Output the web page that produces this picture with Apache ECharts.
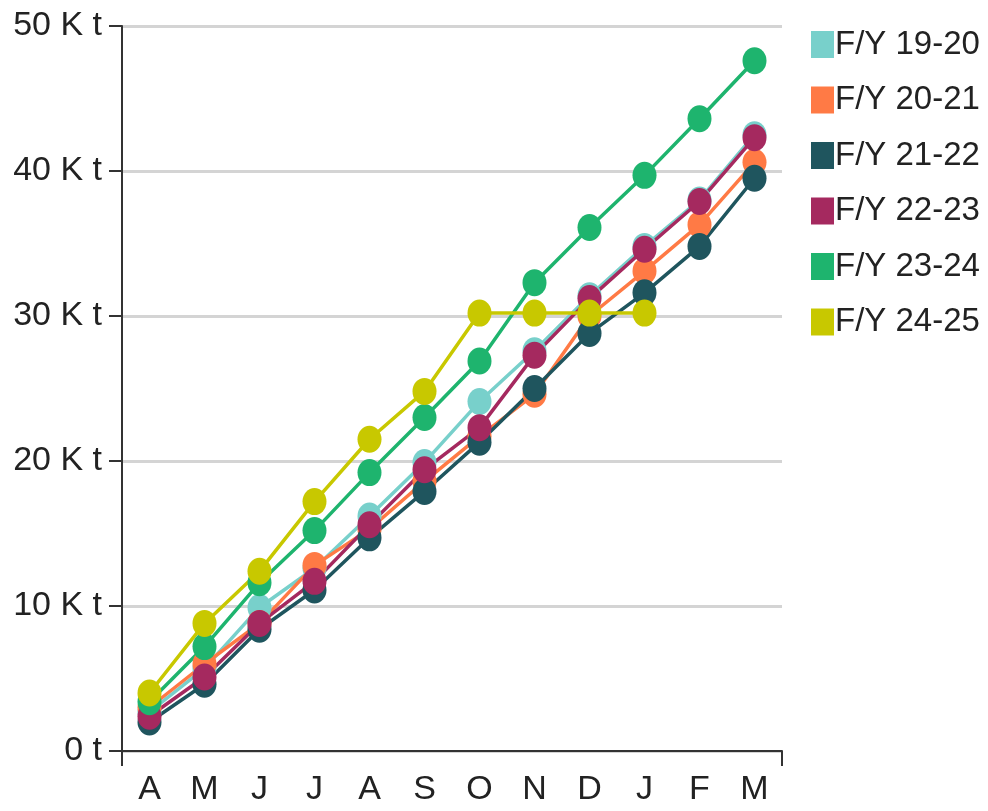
<!DOCTYPE html>
<html>
<head>
<meta charset="utf-8">
<script src="https://cdn.jsdelivr.net/npm/echarts@6/dist/echarts.min.js"></script>
<style>html,body{margin:0;padding:0;background:#fff}#c{width:988px;height:811px}</style>
</head>
<body>
<div id="c"></div>
<script>
var months = ['A','M','J','J','A','S','O','N','D','J','F','M'];
var seriesNames = ['F/Y 19-20','F/Y 20-21','F/Y 21-22','F/Y 22-23','F/Y 23-24','F/Y 24-25'];
var fy1920 = [2700,5700,9900,12600,16200,19900,24100,27600,31400,34800,38000,42500];
var fy2021 = [3000,6000,8800,12800,15300,18600,21700,24600,30000,33100,36300,40600];
var fy2122 = [2000,4600,8400,11100,14700,17900,21300,25000,28800,31600,34800,39500];
var fy2223 = [2400,5100,8800,11700,15600,19400,22300,27300,31200,34600,37900,42300];
var fy2324 = [3400,7200,11600,15200,19200,23000,26900,32300,36100,39700,43600,47600];
var fy2425 = [4000,8800,12400,17200,21500,24800,30200,30200,30200,30200,null,null];
var colors = ['#78d0cb','#ff7a45','#1f555e','#a5295f','#1eb46e','#c8c800'];
var allData = [fy1920,fy2021,fy2122,fy2223,fy2324,fy2425];

var FONT = "'Liberation Sans', Arial, sans-serif";
var chart = echarts.init(document.getElementById('c'));
chart.setOption({
  animation: false,
  color: colors,
  grid: {left: 122, right: 206, top: 26, bottom: 60, containLabel: false},
  legend: {
    orient: 'vertical', left: 806, top: 23,
    itemWidth: 23, itemHeight: 27, itemGap: 22.5,
    icon: 'rect',
    data: seriesNames,
    textStyle: {fontFamily: FONT, fontSize: 33, color: '#222', padding: [0,0,0,-4]}
  },
  xAxis: [{
    type: 'category', data: months, boundaryGap: true,
    axisLine: {lineStyle: {color: '#333', width: 2}},
    axisTick: {alignWithLabel: true, length: 15, lineStyle: {color: '#333', width: 2}},
    axisLabel: {fontFamily: FONT, fontSize: 34, color: '#222', margin: 22, interval: 0},
    splitLine: {show: false}
  }, {
    type: 'value', min: 0, max: 12, interval: 12, position: 'bottom',
    axisLine: {show: false},
    axisTick: {show: true, length: 15, lineStyle: {color: '#333', width: 2}},
    axisLabel: {show: false},
    splitLine: {show: false}
  }],
  yAxis: {
    type: 'value', min: 0, max: 50000, interval: 10000,
    axisLine: {show: true, lineStyle: {color: '#333', width: 2}},
    axisTick: {show: true, length: 13, lineStyle: {color: '#333', width: 2}},
    axisLabel: {fontFamily: FONT, fontSize: 34, color: '#222', margin: 20,
      formatter: function(v){ return v === 0 ? '0 t' : (v/1000) + ' K t'; }},
    splitLine: {lineStyle: {color: '#d4d4d4', width: 3}}
  },
  series: seriesNames.map(function(n, i){
    return {
      name: n, type: 'line', data: allData[i],
      xAxisIndex: 0,
      symbol: 'circle', symbolSize: [24, 27], showAllSymbol: true,
      lineStyle: {width: 3.5, color: colors[i]},
      itemStyle: {color: colors[i]},
      connectNulls: false
    };
  })
});
</script>
</body>
</html>
